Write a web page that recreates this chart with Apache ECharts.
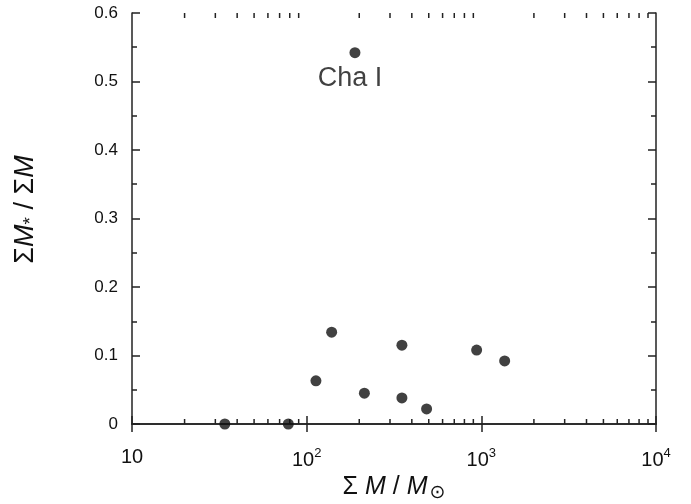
<!DOCTYPE html>
<html>
<head>
<meta charset="utf-8">
<script src="https://cdn.jsdelivr.net/npm/echarts@6/dist/echarts.min.js"></script>
<style>
  html, body { margin: 0; padding: 0; background: #fff; }
  #chart { width: 691px; height: 504px; }
</style>
</head>
<body>
<div id="chart"></div>
<script>
// total mass (solar masses) and stellar mass fraction
var massTotal = [34, 78.5, 113, 139, 189, 214, 351, 351, 486, 940, 1360];
var starFrac  = [0, 0, 0.063, 0.134, 0.542, 0.045, 0.115, 0.038, 0.022, 0.108, 0.092];
var labelled  = 'Cha I';
var labelIdx  = 4;
var xMinorTicks = [20, 30, 40, 50, 60, 70, 80, 90,
                   200, 300, 400, 500, 600, 700, 800, 900,
                   2000, 3000, 4000, 5000, 6000, 7000, 8000, 9000];

var axisColor = '#222';
var font = 'Liberation Sans, Arial, sans-serif';

var points = massTotal.map(function (m, i) {
    var item = { value: [m, starFrac[i]] };
    if (i === labelIdx) {
        item.label = {
            show: true, position: 'bottom', distance: 7, padding: [0, 10, 0, 0],
            formatter: labelled, fontSize: 27, color: '#111', fontFamily: font
        };
    }
    return item;
});

function powLabel(v) {
    var e = Math.round(Math.log10(v));
    if (e === 1) return '10';
    return '10{sup|' + e + '}';
}

var chart = echarts.init(document.getElementById('chart'));
chart.setOption({
    animation: false,
    grid: { left: 132, right: 35, top: 13, bottom: 80, outerBoundsMode: 'none', containLabel: false },
    xAxis: [{
        type: 'log', logBase: 10, min: 10, max: 10000,
        name: 'Σ {i|M} / {i|M}{sub|⊙}',
        nameLocation: 'middle', nameGap: 48,
        nameTextStyle: {
            fontSize: 25, color: '#111', fontFamily: font,
            rich: {
                i: { fontSize: 25, fontStyle: 'italic', fontFamily: font, color: '#111' },
                sub: { fontSize: 19, fontFamily: 'DejaVu Sans', color: '#111', verticalAlign: 'bottom', padding: [12, 0, 0, 2] }
            }
        },
        axisLine: { lineStyle: { color: axisColor, width: 1.5 } },
        axisTick: { inside: true, length: 8, lineStyle: { color: axisColor, width: 1.5 } },
        axisLabel: {
            formatter: powLabel, fontSize: 20, color: '#111', fontFamily: font, margin: 23,
            rich: { sup: { fontSize: 13, verticalAlign: 'top', padding: [0, 0, 13, 0], fontFamily: font, color: '#111' } }
        },
        splitLine: { show: false }
    }, {
        type: 'log', logBase: 10, min: 10, max: 10000, position: 'top',
        axisLine: { lineStyle: { color: axisColor, width: 1.5 } },
        axisTick: { inside: true, length: 8, lineStyle: { color: axisColor, width: 1.5 } },
        axisLabel: { show: false },
        splitLine: { show: false }
    }],
    yAxis: [{
        type: 'value', min: 0, max: 0.6, interval: 0.1,
        name: 'Σ{i|M}{sub|*} / Σ{i|M}',
        nameLocation: 'middle', nameGap: 92, nameRotate: 90,
        nameTextStyle: {
            fontSize: 27, color: '#111', fontFamily: font, padding: [0, 0, 0, 18],
            rich: {
                i: { fontSize: 27, fontStyle: 'italic', fontFamily: font, color: '#111' },
                sub: { fontSize: 19, fontFamily: font, color: '#111', verticalAlign: 'bottom', padding: [10, 0, 0, 0] }
            }
        },
        axisLine: { lineStyle: { color: axisColor, width: 1.5 } },
        axisTick: { inside: true, length: 8, lineStyle: { color: axisColor, width: 1.5 } },
        minorTick: { show: true, splitNumber: 2, length: 5, lineStyle: { color: axisColor, width: 1.5 } },
        axisLabel: {
            fontSize: 17, color: '#111', fontFamily: font, margin: 14,
            formatter: function (v) { return v === 0 ? '0' : v.toFixed(1); }
        },
        splitLine: { show: false },
        minorSplitLine: { show: false }
    }, {
        type: 'value', min: 0, max: 0.6, interval: 0.1, position: 'right',
        axisLine: { show: true, lineStyle: { color: axisColor, width: 1.5 } },
        axisTick: { show: true, inside: true, length: 8, lineStyle: { color: axisColor, width: 1.5 } },
        minorTick: { show: true, splitNumber: 2, length: 5, lineStyle: { color: axisColor, width: 1.5 } },
        axisLabel: { show: false },
        splitLine: { show: false },
        minorSplitLine: { show: false }
    }],
    series: [{
        type: 'scatter',
        xAxisIndex: 0, yAxisIndex: 0,
        symbolSize: 11,
        itemStyle: { color: '#111' },
        clip: false,
        data: points
    }, {
        type: 'custom',
        xAxisIndex: 0, yAxisIndex: 0,
        silent: true,
        clip: false,
        data: xMinorTicks.map(function (v) { return [v, 0]; }),
        renderItem: function (params, api) {
            var v = api.value(0);
            var b = api.coord([v, 0]);
            var t = api.coord([v, 0.6]);
            var style = { stroke: axisColor, lineWidth: 1.5 };
            return {
                type: 'group',
                children: [
                    { type: 'line', shape: { x1: b[0], y1: b[1], x2: b[0], y2: b[1] - 5 }, style: style },
                    { type: 'line', shape: { x1: t[0], y1: t[1], x2: t[0], y2: t[1] + 5 }, style: style }
                ]
            };
        }
    }]
});
</script>
</body>
</html>
